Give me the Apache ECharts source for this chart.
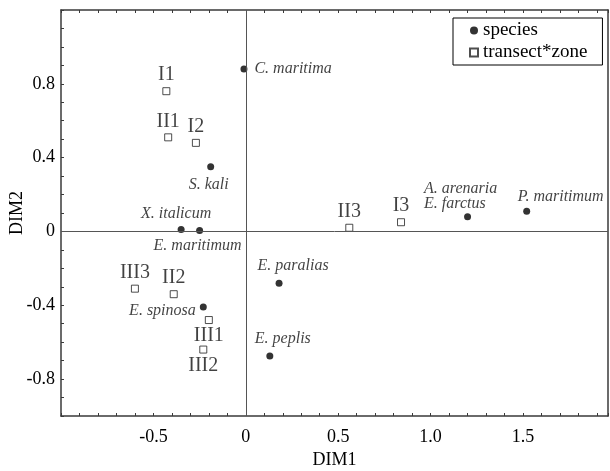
<!DOCTYPE html>
<html>
<head>
<meta charset="utf-8">
<script src="https://cdn.jsdelivr.net/npm/echarts@6/dist/echarts.min.js"></script>
<style>
  html, body { margin: 0; padding: 0; background: #fff; }
  #main { width: 610px; height: 471px; }
</style>
</head>
<body>
<div id="main"></div>
<script>
// species scores
const speciesNames = ['C. maritima', 'S. kali', 'X. italicum', 'E. maritimum', 'E. spinosa',
  'E. paralias', 'E. peplis', 'A. arenaria\nE. farctus', 'P. maritimum']
const speciesX = [-0.01, -0.19, -0.35, -0.25, -0.23, 0.18, 0.13, 1.20, 1.52]
const speciesY = [0.88, 0.35, 0.01, 0.005, -0.41, -0.28, -0.675, 0.08, 0.11]

// transect*zone scores
const zoneNames = ['I1', 'II1', 'I2', 'III3', 'II2', 'III1', 'III2', 'II3', 'I3']
const zoneX = [-0.43, -0.42, -0.27, -0.60, -0.39, -0.20, -0.23, 0.56, 0.84]
const zoneY = [0.76, 0.51, 0.48, -0.31, -0.34, -0.48, -0.64, 0.02, 0.05]

// tick labels
const xTicks = ['-0.5', '0', '0.5', '1.0', '1.5']
const yTicks = ['-0.8', '-0.4', '0', '0.4', '0.8']

// where each label sits next to its point
const speciesLabelPos = [
  { position: 'right', distance: 7 },
  { position: 'bottom', distance: 6, offset: [-2, 0] },
  { position: 'top', distance: 4, offset: [-5, 0] },
  { position: 'bottom', distance: 4, offset: [-2, 0] },
  { position: 'left', distance: 4, offset: [0, 4] },
  { position: 'top', distance: 6, offset: [14, 0] },
  { position: 'top', distance: 6, offset: [13, 0] },
  { position: [-40, -32], align: 'left', verticalAlign: 'top', lineHeight: 15 },
  { position: 'top', distance: 3, offset: [34, 0] }
]
const zoneLabelPos = ['top', 'top', 'top', 'top', 'top', 'bottom', 'bottom', 'top', 'top']

const serif = 'Liberation Serif'

function tickFormatter(list) {
  return function (v) {
    const hit = list.find(s => Math.abs(parseFloat(s) - v) < 1e-6)
    return hit === undefined ? '' : hit
  }
}

const chart = echarts.init(document.getElementById('main'), null, { renderer: 'canvas' })

const axisLine = { show: true, onZero: false, lineStyle: { color: '#3a3a3a', width: 1.5 } }
const axisTick = { show: true, inside: true, length: 3, lineStyle: { color: '#3a3a3a', width: 1 } }

const option = {
  animation: false,
  backgroundColor: '#fff',
  textStyle: { fontFamily: serif },
  grid: { left: 61, right: 2, top: 10, bottom: 55, containLabel: false, outerBoundsMode: 'none' },
  legend: {
    left: 453,
    top: 18,
    orient: 'vertical',
    borderColor: '#000',
    borderWidth: 1,
    padding: [3, 15, 3, 16],
    itemGap: 3,
    itemWidth: 8,
    itemHeight: 8,
    textStyle: { fontFamily: serif, fontSize: 19, color: '#000' },
    data: [
      { name: 'species', icon: 'circle' },
      { name: 'transect*zone', icon: 'rect' }
    ]
  },
  xAxis: [
    {
      type: 'value',
      min: -1,
      max: 1.96,
      interval: 0.1,
      position: 'bottom',
      name: 'DIM1',
      nameLocation: 'middle',
      nameGap: 35,
      nameMoveOverlap: false,
      nameTextStyle: { fontFamily: serif, fontSize: 18, color: '#000' },
      axisLine,
      axisTick,
      splitLine: { show: false },
      axisLabel: { fontFamily: serif, fontSize: 18, color: '#000', margin: 12, formatter: tickFormatter(xTicks) }
    },
    {
      type: 'value',
      min: -1,
      max: 1.96,
      interval: 0.1,
      position: 'top',
      axisLine,
      axisTick,
      splitLine: { show: false },
      axisLabel: { show: false }
    }
  ],
  yAxis: [
    {
      type: 'value',
      min: -1,
      max: 1.2,
      interval: 0.1,
      position: 'left',
      name: 'DIM2',
      nameLocation: 'middle',
      nameGap: 35,
      nameMoveOverlap: false,
      nameTextStyle: { fontFamily: serif, fontSize: 18, color: '#000' },
      axisLine,
      axisTick,
      splitLine: { show: false },
      axisLabel: { fontFamily: serif, fontSize: 18, color: '#000', margin: 6, formatter: tickFormatter(yTicks) }
    },
    {
      type: 'value',
      min: -1,
      max: 1.2,
      interval: 0.1,
      position: 'right',
      axisLine,
      axisTick: { show: false },
      splitLine: { show: false },
      axisLabel: { show: false }
    }
  ],
  series: [
    {
      name: 'species',
      type: 'scatter',
      symbol: 'circle',
      symbolSize: 7,
      itemStyle: { color: '#000' },
      data: speciesNames.map((n, i) => ({
        name: n,
        value: [speciesX[i], speciesY[i]],
        label: Object.assign({
          show: true,
          formatter: n,
          fontFamily: serif,
          fontStyle: 'italic',
          fontSize: 16,
          color: '#111'
        }, speciesLabelPos[i])
      })),
      markLine: {
        silent: true,
        symbol: 'none',
        label: { show: false },
        lineStyle: { color: '#555', width: 1, type: 'solid' },
        data: [{ xAxis: 0 }, { yAxis: 0 }]
      }
    },
    {
      name: 'transect*zone',
      type: 'scatter',
      symbol: 'rect',
      symbolSize: 7,
      itemStyle: { color: '#fff', borderColor: '#222', borderWidth: 1 },
      data: zoneNames.map((n, i) => ({
        name: n,
        value: [zoneX[i], zoneY[i]],
        label: {
          show: true,
          formatter: n,
          position: zoneLabelPos[i],
          distance: 2,
          fontFamily: serif,
          fontSize: 20,
          color: '#111'
        }
      }))
    }
  ]
}

chart.setOption(option)
</script>
</body>
</html>
